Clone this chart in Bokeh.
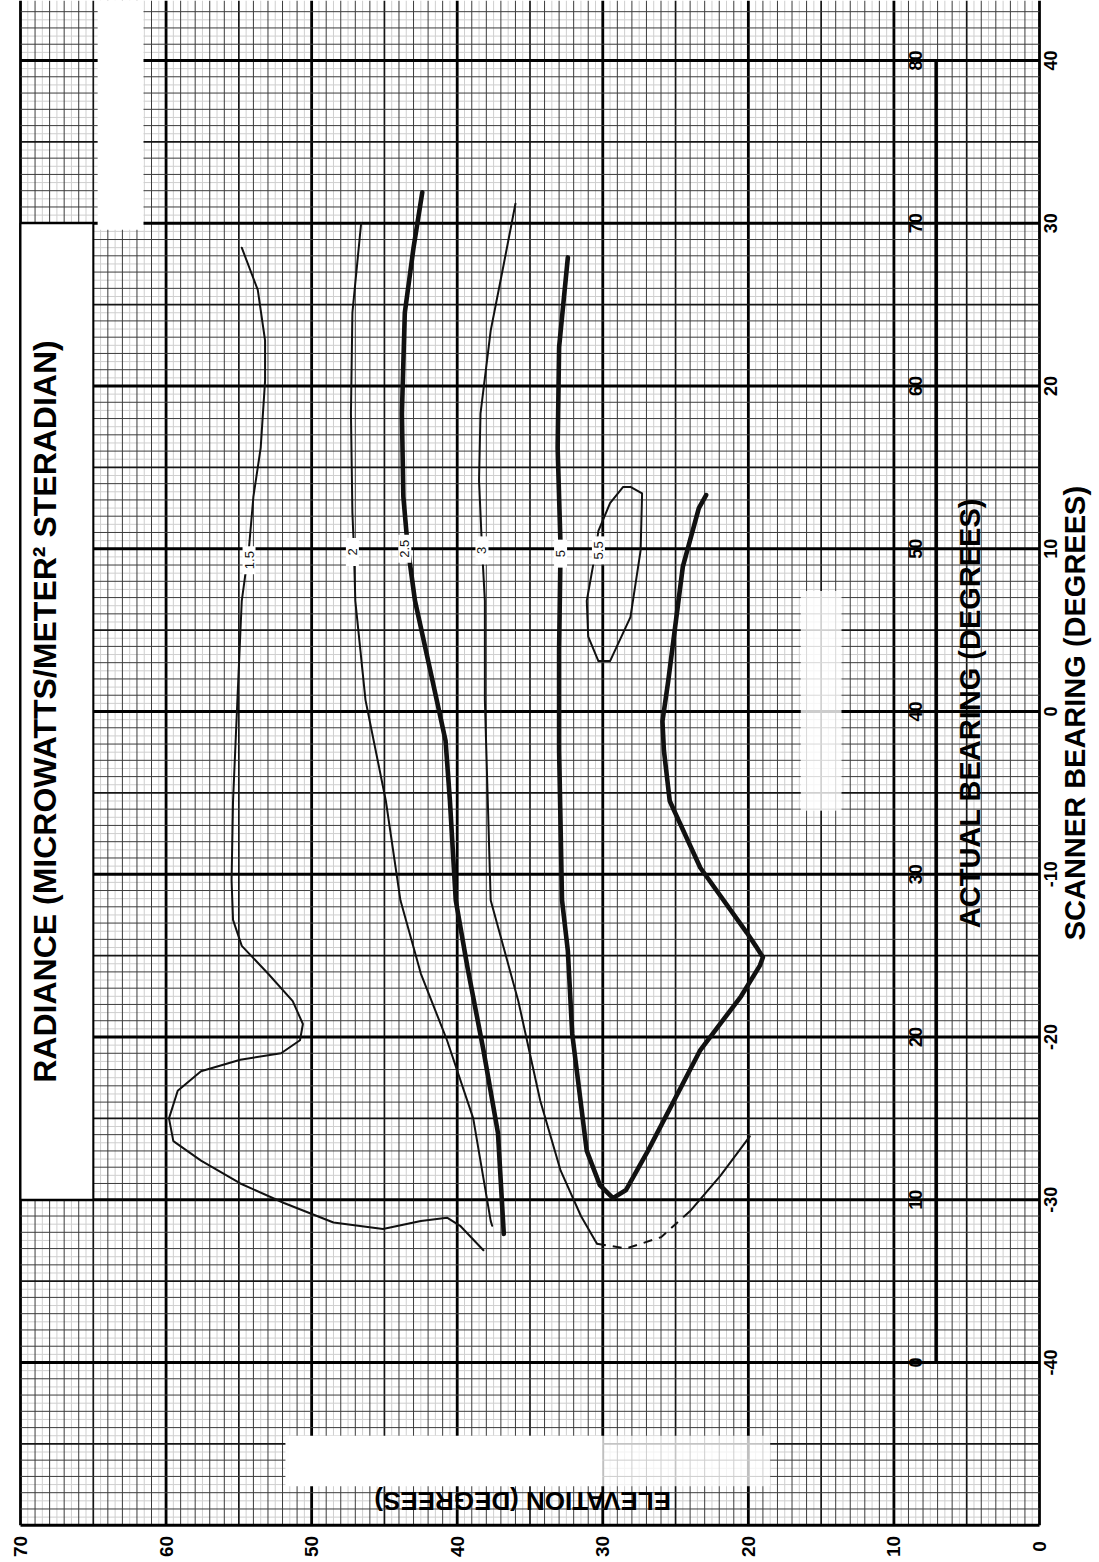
import math
import numpy as np
from bokeh.plotting import figure
from bokeh.models import Range1d
from bokeh.core.properties import value
from bokeh.embed import file_html
from bokeh.resources import INLINE

# ---------------- data (elevation deg, scanner bearing deg) ----------------
elev_ticks = [70, 60, 50, 40, 30, 20, 10, 0]
scanner_ticks = [40, 30, 20, 10, 0, -10, -20, -30, -40]
actual_ticks = [80, 70, 60, 50, 40, 30, 20, 10, 0]

c15_elev = [54.8, 53.7, 53.2, 53.2, 53.5, 54.0, 54.3, 54.8, 55.1, 55.4, 55.5, 55.4,
            54.8, 53.0, 51.3, 50.6, 50.8, 52.1, 54.9, 57.6, 59.2, 59.8, 59.5, 57.6,
            54.9, 51.9, 48.5, 45.1, 42.5, 40.7, 39.8, 38.2]
c15_bear = [28.5, 25.9, 22.8, 20.3, 16.2, 13.2, 10.1, 6.8, 0.7, -5.5, -10.4, -12.8,
            -14.4, -16.1, -17.8, -19.2, -20.2, -21.0, -21.4, -22.1, -23.3, -25.0, -26.4, -27.6,
            -29.0, -30.2, -31.4, -31.8, -31.3, -31.1, -31.6, -33.1]

c2_elev = [46.6, 47.2, 47.3, 47.2, 47.1, 47.0, 46.3, 44.9, 43.9, 42.5, 40.7, 38.9, 37.7, 37.6]
c2_bear = [30.0, 24.5, 18.3, 12.2, 10.1, 6.8, 0.7, -5.5, -11.6, -16.1, -20.2, -25.0, -31.3, -31.6]

c25_elev = [42.4, 43.0, 43.6, 43.8, 43.7, 43.4, 42.9, 41.7, 40.8, 40.5, 40.1, 39.3, 38.2, 37.2, 36.8]
c25_bear = [31.9, 28.5, 24.5, 18.3, 13.2, 10.1, 6.8, 1.9, -1.8, -5.5, -11.6, -15.7, -20.8, -25.9, -32.1]

c3_elev = [36.0, 36.8, 37.7, 38.4, 38.5, 38.3, 38.1, 38.1, 37.9, 37.7, 35.8, 34.3, 32.9, 31.5, 30.4]
c3_bear = [31.2, 27.5, 23.4, 18.3, 14.2, 10.1, 6.8, 0.7, -5.5, -11.6, -17.8, -23.9, -28.2, -31.0, -32.7]
c3_dash_elev = [30.4, 28.4, 26.0, 24.0]
c3_dash_bear = [-32.7, -33.0, -32.3, -30.7]
c3_tail_elev = [24.0, 21.9, 19.9]
c3_tail_bear = [-30.7, -28.5, -26.1]

c5_elev = [32.4, 33.0, 33.1, 32.9, 33.0, 33.0, 32.8, 32.4, 32.1, 31.1, 30.2, 29.3, 28.4,
           26.9, 23.3, 20.5, 19.2, 19.0, 19.5, 20.1, 23.3, 25.4, 25.8, 25.9, 25.5, 24.5, 23.4, 22.9]
c5_bear = [27.9, 22.4, 16.2, 10.1, 3.8, -2.4, -11.6, -14.7, -19.8, -27.0, -29.1, -29.9, -29.4,
           -27.0, -20.8, -17.5, -15.6, -15.1, -14.4, -13.6, -9.6, -5.5, -2.4, -0.6, 1.9, 8.9, 12.5, 13.3]

c55_elev = [28.1, 27.3, 27.4, 28.1, 29.5, 30.3, 31.0, 31.1, 30.6, 30.3, 29.5, 28.6, 28.1]
c55_bear = [13.8, 13.4, 9.9, 5.8, 3.1, 3.1, 4.6, 6.8, 9.3, 11.1, 12.8, 13.8, 13.8]

contour_labels = ["1.5", "2", "2.5", "3", "5", "5.5"]
label_elev = [54.3, 47.2, 43.6, 38.3, 32.9, 30.3]
label_bear = [9.3, 9.8, 10.0, 9.9, 9.7, 9.9]

# ---------------- geometry of the page ----------------
W, H = 1099, 1560
PX_E = 14.557   # px per degree elevation
PX_B = 16.275   # px per degree bearing
x_left = 70 + 20 / PX_E
x_right = x_left - W / PX_E
y_top = 40 + 60 / PX_B
y_bot = y_top - H / PX_B

p = figure(width=W, height=H, x_range=Range1d(x_left, x_right),
           y_range=Range1d(y_bot, y_top), output_backend="svg",
           toolbar_location=None, x_axis_type=None, y_axis_type=None,
           min_border=0, outline_line_color=None)
p.background_fill_color = "white"
p.border_fill_color = "white"

FONT = value("Liberation Sans")

# ---------------- graph paper ----------------
GB, GT = -50, y_top
half_e = np.arange(0.5, 70, 1.0)
half_b = np.arange(-49.5, 43.5, 1.0)
p.segment(x0=half_e, y0=GB, x1=half_e, y1=GT, line_color="#cfcfcf", line_width=1)
p.segment(x0=0, y0=half_b, x1=70, y1=half_b, line_color="#cfcfcf", line_width=1)

e_all = np.arange(0, 71, 1)
b_all = np.arange(-50, 44, 1)

def split(vals):
    v = np.asarray(vals)
    major = v[v % 10 == 0]
    mid = v[(v % 5 == 0) & (v % 10 != 0)]
    minor = v[v % 5 != 0]
    return minor, mid, major

for vals, w, col in zip(split(e_all), [1.0, 1.7, 2.8], ["#3c3c3c", "#161616", "#000000"]):
    p.segment(x0=vals, y0=GB, x1=vals, y1=GT, line_color=col, line_width=w)
for vals, w, col in zip(split(b_all), [1.0, 1.7, 2.8], ["#3c3c3c", "#161616", "#000000"]):
    p.segment(x0=0, y0=vals, x1=70, y1=vals, line_color=col, line_width=w)

# scan blemishes / erased areas of the sheet
p.quad(left=[64.7], right=[61.55], bottom=[29.6], top=[y_top], fill_color="white", line_color=None)
p.quad(left=[16.4], right=[13.6], bottom=[-6.1], top=[7.4], fill_color="white", fill_alpha=0.8, line_color=None)
p.quad(left=[51.8], right=[30.0], bottom=[-47.6], top=[-44.5], fill_color="white", line_color=None)
p.quad(left=[30.0], right=[18.5], bottom=[-47.6], top=[-44.5], fill_color="white", fill_alpha=0.75, line_color=None)
# label box on the left
p.quad(left=[70], right=[65], bottom=[-30], top=[30], fill_color="white",
       line_color="black", line_width=2)

# actual-bearing axis line
p.segment(x0=[7.1], y0=[-40], x1=[7.1], y1=[40], line_color="black", line_width=3.5)

# ---------------- contours ----------------
THIN, THICK, INK = 2.0, 4.6, "#111111"
kw = dict(line_color=INK, line_join="round", line_cap="round")
p.line(c15_elev, c15_bear, line_width=THIN, **kw)
p.line(c2_elev, c2_bear, line_width=THIN, **kw)
p.line(c25_elev, c25_bear, line_width=THICK, **kw)
p.line(c3_elev, c3_bear, line_width=THIN, **kw)
p.line(c3_dash_elev, c3_dash_bear, line_width=THIN, line_dash="9 7", line_color=INK)
p.line(c3_tail_elev, c3_tail_bear, line_width=THIN, **kw)
p.line(c5_elev, c5_bear, line_width=THICK, **kw)
p.line(c55_elev, c55_bear, line_width=THIN, **kw)

# contour labels (gap in line + rotated text)
p.rect(x=label_elev, y=label_bear, width=13, height=28, width_units="screen",
       height_units="screen", fill_color="white", line_color=None)
p.text(x=label_elev, y=label_bear, text=contour_labels, angle=math.pi / 2,
       text_font=FONT, text_font_size="13px", text_color="#111111",
       text_align="center", text_baseline="middle")

# ---------------- tick labels ----------------
p.text(x=elev_ticks, y=[-51.3] * len(elev_ticks), text=[str(v) for v in elev_ticks],
       angle=math.pi / 2, text_font=FONT, text_font_size="19px", text_font_style="bold",
       text_align="center", text_baseline="middle", text_color="black")
p.text(x=[-0.76] * len(scanner_ticks), y=scanner_ticks, text=[str(v) for v in scanner_ticks],
       angle=math.pi / 2, text_font=FONT, text_font_size="18px", text_font_style="bold",
       text_align="center", text_baseline="middle", text_color="black")
p.text(x=[8.52] * len(actual_ticks), y=[a - 40 for a in actual_ticks],
       text=[str(v) for v in actual_ticks],
       angle=math.pi / 2, text_font=FONT, text_font_size="18px", text_font_style="bold",
       text_align="center", text_baseline="middle", text_color="black")

# ---------------- titles ----------------
p.text(x=[68.3], y=[0.0], text=["RADIANCE (MICROWATTS/METER\u00b2 STERADIAN)"],
       angle=math.pi / 2, text_font=FONT, text_font_size="32px", text_font_style="bold",
       text_align="center", text_baseline="middle", text_color="black")
p.text(x=[4.74], y=[-0.1], text=["ACTUAL BEARING (DEGREES)"],
       angle=math.pi / 2, text_font=FONT, text_font_size="29px", text_font_style="bold",
       text_align="center", text_baseline="middle", text_color="black")
p.text(x=[-2.47], y=[-0.1], text=["SCANNER BEARING (DEGREES)"],
       angle=math.pi / 2, text_font=FONT, text_font_size="29px", text_font_style="bold",
       text_align="center", text_baseline="middle", text_color="black")
p.text(x=[35.5], y=[-48.5], text=["ELEVATION (DEGREES)"],
       angle=math.pi, text_font=FONT, text_font_size="26px", text_font_style="bold",
       text_align="center", text_baseline="middle", text_color="black")

open("out.html", "w").write(file_html(p, INLINE))
